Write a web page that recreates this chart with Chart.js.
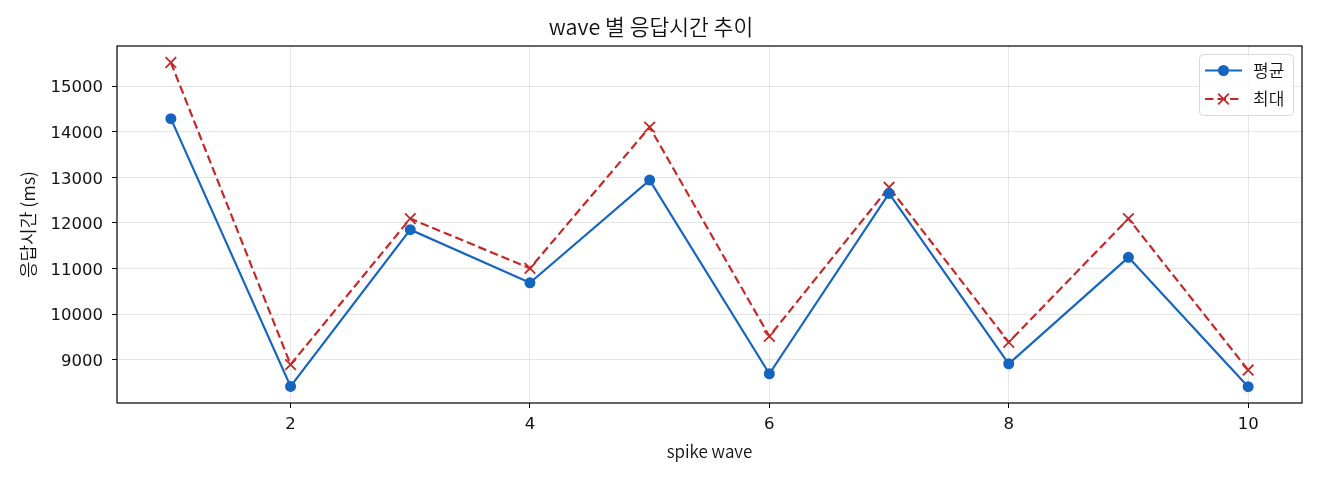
<!DOCTYPE html>
<html><head><meta charset="utf-8">
<script src="https://cdn.jsdelivr.net/npm/chart.js@4/dist/chart.umd.min.js"></script>
<style>html,body{margin:0;padding:0;background:#fff;overflow:hidden}</style>
</head><body>
<canvas id="c" width="1320" height="480" style="width:1320px;height:480px;display:block"></canvas>
<script>
const waves = [1, 2, 3, 4, 5, 6, 7, 8, 9, 10];
const avgValues = [14285, 8415, 11852, 10688, 12938, 8694, 12645, 8913, 11245, 8410];
const maxValues = [15515, 8895, 12095, 11005, 14100, 9515, 12780, 9385, 12095, 8775];
const xTicks = [2, 4, 6, 8, 10];
const yTicks = [9000, 10000, 11000, 12000, 13000, 14000, 15000];
const seriesNames = ['평균', '최대'];
const titleText = 'wave 별 응답시간 추이';
const xTitle = 'spike wave';
const yTitle = '응답시간 (ms)';

const KFONT = '"Noto Sans CJK KR", "Noto Sans", sans-serif';
const NFONT = '"DejaVu Sans", sans-serif';
const KW = '350';
const BLUE = '#1565c0';
const RED = '#c62828';
const GRID = 'rgba(176,176,176,0.32)';
const TEXT = '#111';

const framePlugin = {
  id: 'frame',
  afterDraw(chart) {
    const {ctx, chartArea: a} = chart;
    ctx.save();
    ctx.strokeStyle = '#000';
    ctx.lineWidth = 1.2;
    ctx.strokeRect(a.left, a.top, a.right - a.left, a.bottom - a.top);
    // legend
    const bx = 1199.5, by = 54.5, bw = 94, bh = 61, r = 4;
    ctx.beginPath();
    ctx.moveTo(bx + r, by);
    ctx.arcTo(bx + bw, by, bx + bw, by + bh, r);
    ctx.arcTo(bx + bw, by + bh, bx, by + bh, r);
    ctx.arcTo(bx, by + bh, bx, by, r);
    ctx.arcTo(bx, by, bx + bw, by, r);
    ctx.closePath();
    ctx.fillStyle = 'rgba(255,255,255,0.8)';
    ctx.fill();
    ctx.strokeStyle = '#d8d8d8';
    ctx.lineWidth = 1;
    ctx.stroke();
    const rows = [
      {y: 70.5, color: BLUE, dash: [], marker: 'circle', name: seriesNames[0]},
      {y: 99, color: RED, dash: [8.5, 4], marker: 'x', name: seriesNames[1]}
    ];
    rows.forEach(row => {
      ctx.strokeStyle = row.color;
      ctx.lineWidth = 2.2;
      ctx.setLineDash(row.dash);
      ctx.beginPath();
      ctx.moveTo(1205, row.y);
      ctx.lineTo(1242, row.y);
      ctx.stroke();
      ctx.setLineDash([]);
      if (row.marker === 'circle') {
        ctx.fillStyle = row.color;
        ctx.beginPath();
        ctx.arc(1223.5, row.y, 5.5, 0, Math.PI * 2);
        ctx.fill();
      } else {
        ctx.lineWidth = 1.8;
        ctx.beginPath();
        ctx.moveTo(1218.2, row.y - 5.3); ctx.lineTo(1228.8, row.y + 5.3);
        ctx.moveTo(1228.8, row.y - 5.3); ctx.lineTo(1218.2, row.y + 5.3);
        ctx.stroke();
      }
      ctx.fillStyle = TEXT;
      ctx.font = KW + ' 17px ' + KFONT;
      ctx.textBaseline = 'middle';
      ctx.textAlign = 'left';
      ctx.fillText(row.name, 1253, row.y);
    });
    ctx.restore();
  }
};

new Chart(document.getElementById('c'), {
  type: 'line',
  data: {
    datasets: [
      {
        label: seriesNames[0],
        data: waves.map((w, i) => ({x: w, y: avgValues[i]})),
        borderColor: BLUE,
        backgroundColor: BLUE,
        borderWidth: 2.2,
        pointStyle: 'circle',
        pointRadius: 5.5,
        pointBorderWidth: 0,
        pointBackgroundColor: BLUE,
        tension: 0
      },
      {
        label: seriesNames[1],
        data: waves.map((w, i) => ({x: w, y: maxValues[i]})),
        borderColor: RED,
        backgroundColor: RED,
        borderWidth: 2.2,
        borderDash: [8.5, 4],
        pointStyle: 'crossRot',
        pointRadius: 7.5,
        pointBorderWidth: 1.8,
        pointBorderColor: RED,
        tension: 0
      }
    ]
  },
  options: {
    responsive: false,
    animation: false,
    devicePixelRatio: 1,
    layout: {padding: {left: 0, right: 18, top: 0, bottom: 0}},
    plugins: {
      legend: {display: false},
      tooltip: {enabled: false},
      title: {
        display: true,
        text: titleText,
        color: TEXT,
        font: {family: KFONT, size: 21.5, weight: KW},
        padding: {top: 14, bottom: 6.2}
      }
    },
    scales: {
      x: {
        type: 'linear',
        min: 0.55,
        max: 10.45,
        afterBuildTicks(s) { s.ticks = xTicks.map(v => ({value: v})); },
        afterFit(s) { s.height = 77; },
        grid: {color: GRID, lineWidth: 1, tickLength: 5, tickColor: '#000', drawTicks: true},
        border: {display: false},
        ticks: {color: TEXT, font: {family: NFONT, size: 16.5}, padding: 7, maxRotation: 0, autoSkip: false, callback: v => String(v)},
        title: {display: true, text: xTitle, color: TEXT, font: {family: KFONT, size: 17, weight: KW}, padding: {top: 4, bottom: 18}}
      },
      y: {
        type: 'linear',
        min: 8053,
        max: 15877,
        afterBuildTicks(s) { s.ticks = yTicks.map(v => ({value: v})); },
        afterFit(s) { s.width = 117; },
        grid: {color: GRID, lineWidth: 1, tickLength: 5, tickColor: '#000', drawTicks: true},
        border: {display: false},
        ticks: {color: TEXT, font: {family: NFONT, size: 16.5}, padding: 9, labelOffset: 2, autoSkip: false, callback: v => String(v)},
        title: {display: true, text: yTitle, color: TEXT, font: {family: KFONT, size: 18, weight: KW}, padding: {top: 17, bottom: 4}}
      }
    }
  },
  plugins: [framePlugin]
});
</script>
</body></html>
